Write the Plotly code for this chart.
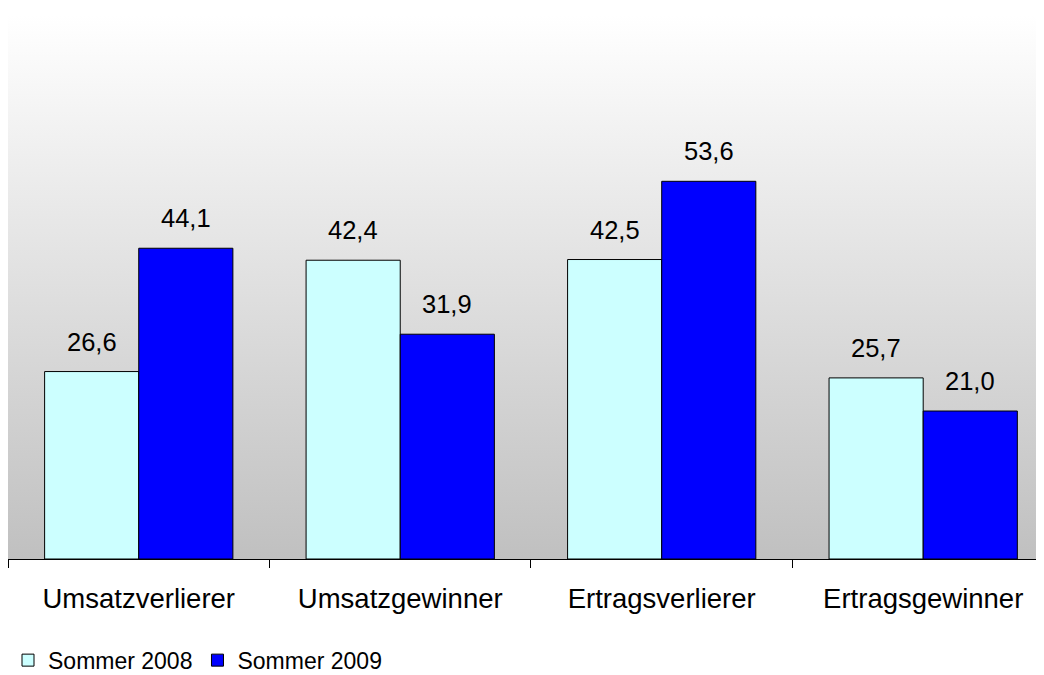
import plotly.graph_objects as go

categories = ["Umsatzverlierer", "Umsatzgewinner", "Ertragsverlierer", "Ertragsgewinner"]
sommer_2008 = [26.6, 42.4, 42.5, 25.7]
sommer_2009 = [44.1, 31.9, 53.6, 21.0]
series_names = ["Sommer 2008", "Sommer 2009"]
series_colors = ["#CCFFFF", "#0000FF"]

Y_MAX = 77.2
FONT = "Arial, Liberation Sans, sans-serif"


def fmt(v):
    return f"{v:.1f}".replace(".", ",")


fig = go.Figure()

# gradient background for the plot area (white at top, grey at bottom)
fig.add_trace(
    go.Scatter(
        x=[0, 1, 1, 0, 0],
        y=[0, 0, Y_MAX, Y_MAX, 0],
        xaxis="x",
        yaxis="y",
        mode="lines",
        line=dict(width=0),
        fill="toself",
        fillgradient=dict(type="vertical", colorscale=[[0, "#c0c0c0"], [1, "#ffffff"]]),
        hoverinfo="skip",
        showlegend=False,
    )
)

for name, values, color in zip(series_names, [sommer_2008, sommer_2009], series_colors):
    fig.add_trace(
        go.Bar(
            x=categories,
            y=values,
            name=name,
            xaxis="x2",
            yaxis="y",
            marker=dict(color=color, line=dict(color="#000000", width=1)),
        )
    )

annotations = []
for values, shift in [(sommer_2008, -47), (sommer_2009, 47)]:
    for cat, v in zip(categories, values):
        annotations.append(
            dict(
                x=cat,
                y=v,
                xref="x2",
                yref="y",
                text=fmt(v),
                showarrow=False,
                xshift=shift,
                yanchor="bottom",
                yshift=14,
                font=dict(family=FONT, size=25.5, color="#000000"),
            )
        )

# page body has an 8px margin, so the figure is sized to fit the window
fig.update_layout(
    width=1036,
    height=667,
    margin=dict(l=0, r=0, t=7, b=116, autoexpand=False),
    paper_bgcolor="#ffffff",
    plot_bgcolor="rgba(0,0,0,0)",
    barmode="group",
    bargap=0.28,
    bargroupgap=0,
    font=dict(family=FONT, color="#000000"),
    annotations=annotations,
    xaxis=dict(range=[0, 1], visible=False, fixedrange=True, automargin=False),
    xaxis2=dict(
        type="category",
        overlaying="x",
        anchor="y",
        side="bottom",
        range=[-0.5, 3.462],
        tickson="boundaries",
        ticks="outside",
        ticklen=8,
        tickcolor="#000000",
        showline=True,
        linecolor="#000000",
        linewidth=1,
        showgrid=False,
        automargin=False,
        ticklabelstandoff=15,
        tickfont=dict(family=FONT, size=27.5, color="#000000"),
    ),
    yaxis=dict(range=[0, Y_MAX], visible=False, showgrid=False, zeroline=False, automargin=False),
    legend=dict(
        orientation="h",
        x=0.0,
        y=-0.186,
        xanchor="left",
        yanchor="middle",
        itemwidth=30,
        tracegroupgap=0,
        font=dict(family=FONT, size=23, color="#000000"),
        bgcolor="rgba(0,0,0,0)",
    ),
)

fig.write_html("out.html")
